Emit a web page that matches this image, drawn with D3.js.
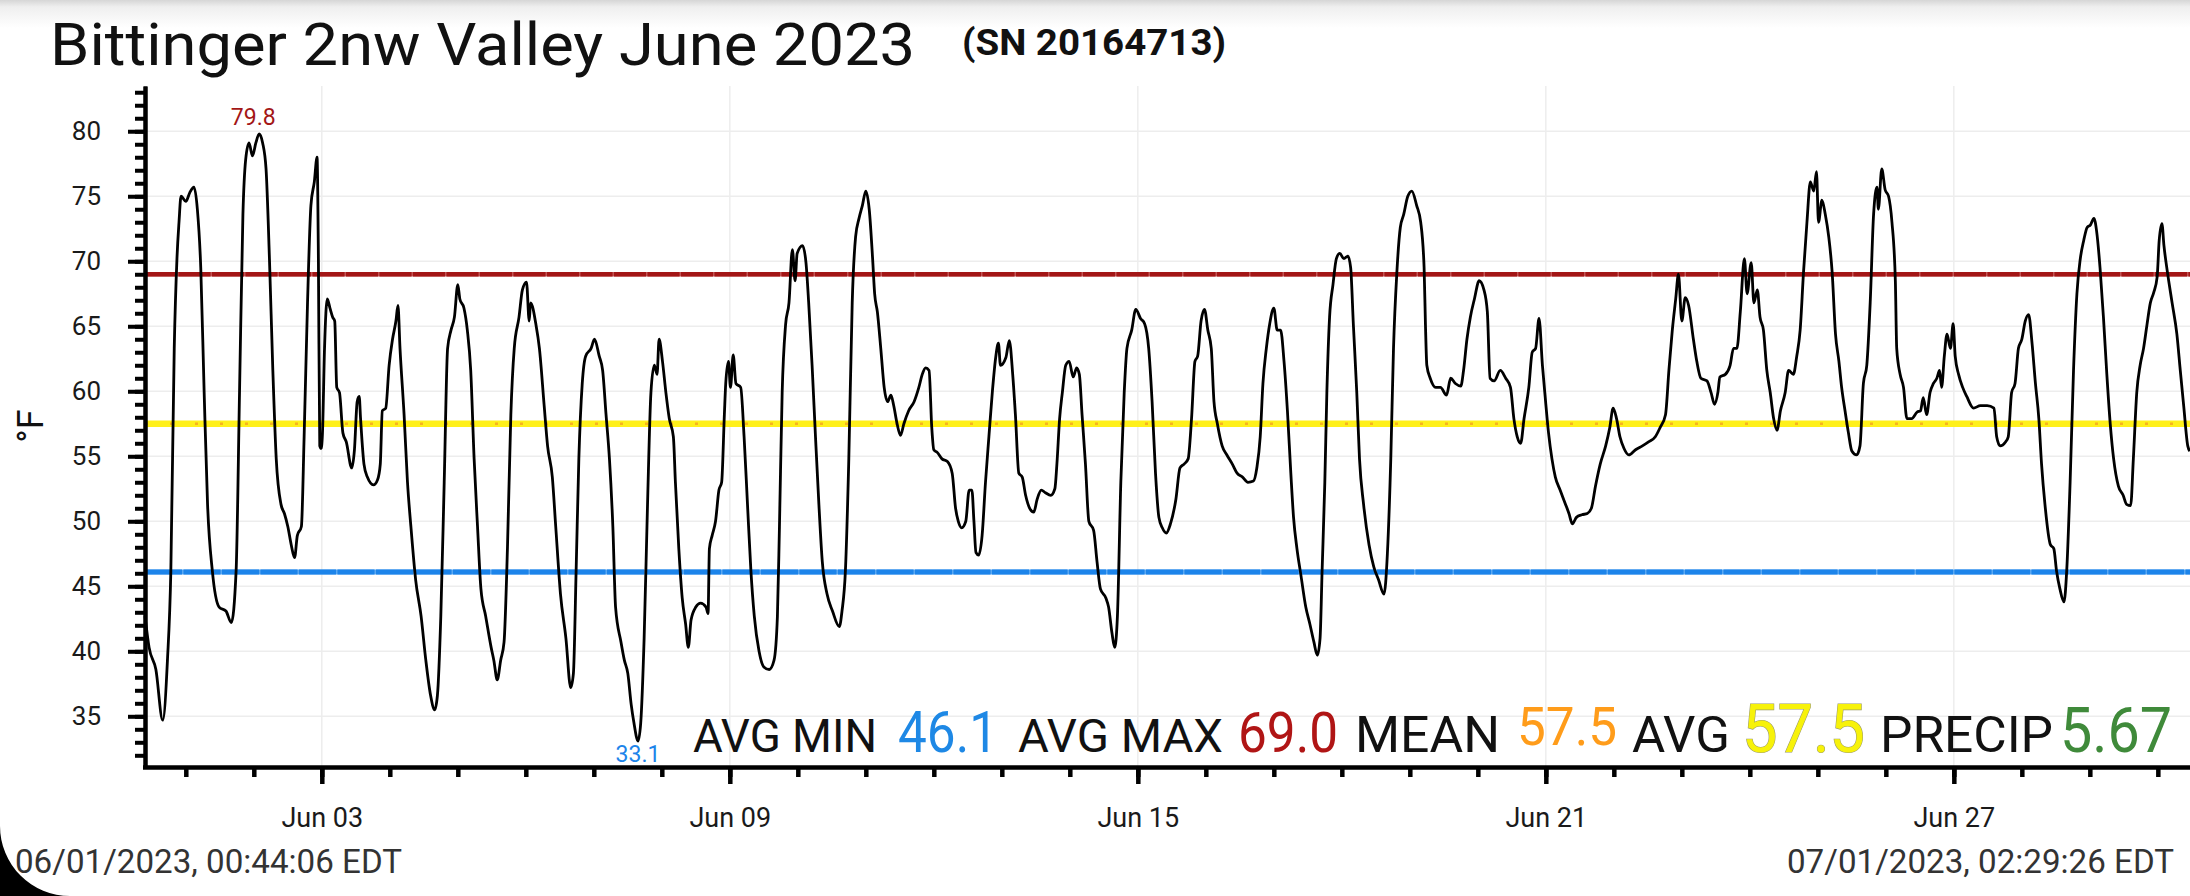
<!DOCTYPE html>
<html>
<head>
<meta charset="utf-8">
<script src="https://cdn.jsdelivr.net/npm/d3@7"></script>
<style>
body { margin: 0; background: #fff; overflow: hidden; }
text { font-family: Roboto, "Noto Sans", sans-serif; }
</style>
</head>
<body>
<div class="container"></div>
<script>
// ---- data ----
const chartTitle = "Bittinger 2nw Valley June 2023";
const serialLabel = "(SN 20164713)";
const startLabel = "06/01/2023, 00:44:06 EDT";
const endLabel = "07/01/2023, 02:29:26 EDT";
const unitLabel = "°F";

const spanDays = 30.073;        // first to last reading, in days
const firstTickDay = 0.60;      // where the "Jun 01" day tick falls, days from first reading
const dayNumbers = d3.range(1, 31);
const majorDays = [3, 9, 15, 21, 27];
const majorLabels = ["Jun 03", "Jun 09", "Jun 15", "Jun 21", "Jun 27"];
const yMinorTicks = d3.range(32, 84);
const yMajorTicks = [35, 40, 45, 50, 55, 60, 65, 70, 75, 80];

const avgMin = 46.1;
const avgMax = 69.0;
const meanTemp = 57.5;
const avgTemp = 57.5;
const precip = 5.67;

// [days since first reading, temperature °F]
const tempPoints = [
  [0.00,42.7],[0.06,40.3],[0.16,38.6],[0.26,34.7],[0.33,39.3],[0.38,46.2],[0.43,63.3],[0.47,70.2],[0.50,73.0],[0.53,75.0],
  [0.60,74.6],[0.66,75.3],[0.72,75.7],[0.77,74.0],[0.82,69.5],[0.87,59.9],[0.92,51.3],[0.99,46.2],[1.09,43.4],[1.19,43.1],
  [1.27,42.2],[1.34,46.2],[1.39,59.9],[1.44,73.6],[1.48,77.8],[1.53,79.1],[1.58,78.1],[1.63,79.1],[1.68,79.8],[1.73,79.1],
  [1.78,77.1],[1.83,70.2],[1.88,61.6],[1.93,54.8],[2.00,51.3],[2.05,50.6],[2.10,49.6],[2.15,48.2],[2.20,47.2],[2.24,48.9],
  [2.30,49.6],[2.34,56.5],[2.39,66.8],[2.44,74.3],[2.49,76.1],[2.53,78.0],[2.55,70.2],[2.57,55.8],[2.59,55.6],[2.61,56.8],
  [2.64,63.3],[2.68,67.1],[2.72,66.4],[2.76,65.7],[2.79,65.4],[2.82,60.3],[2.86,59.9],[2.91,56.8],[2.96,56.1],[3.04,54.1],
  [3.08,55.5],[3.12,59.2],[3.15,59.6],[3.17,57.9],[3.22,54.4],[3.27,53.4],[3.36,52.8],[3.42,53.2],[3.46,54.4],[3.49,58.5],
  [3.54,58.7],[3.59,62.0],[3.64,64.0],[3.69,65.4],[3.72,66.6],[3.75,63.3],[3.81,58.2],[3.86,53.0],[3.91,49.6],[3.98,45.5],
  [4.06,42.7],[4.13,39.3],[4.20,36.6],[4.26,35.5],[4.30,36.6],[4.35,42.7],[4.40,53.0],[4.45,63.3],[4.50,64.7],[4.55,65.7],
  [4.60,68.2],[4.63,67.1],[4.69,66.4],[4.74,64.7],[4.79,61.6],[4.84,54.8],[4.89,49.6],[4.94,44.8],[5.01,42.7],[5.09,40.3],
  [5.13,39.3],[5.18,37.8],[5.23,39.3],[5.28,40.7],[5.33,47.9],[5.38,58.2],[5.43,63.3],[5.50,65.7],[5.55,67.8],[5.61,68.4],
  [5.65,65.4],[5.67,66.8],[5.75,65.1],[5.80,63.3],[5.87,58.9],[5.92,55.8],[5.99,53.4],[6.04,49.6],[6.11,44.4],[6.19,41.0],
  [6.26,37.2],[6.30,38.3],[6.34,46.2],[6.38,54.8],[6.43,60.6],[6.48,62.7],[6.56,63.3],[6.61,64.0],[6.68,62.7],[6.73,61.6],
  [6.78,58.2],[6.83,54.8],[6.88,49.6],[6.92,43.4],[7.00,40.7],[7.05,39.3],[7.10,38.3],[7.15,35.9],[7.19,34.5],[7.25,33.1],
  [7.29,34.5],[7.34,41.0],[7.39,51.3],[7.44,59.9],[7.49,62.0],[7.53,61.3],[7.56,64.0],[7.61,62.3],[7.66,59.9],[7.71,57.9],
  [7.77,56.5],[7.80,53.0],[7.85,47.9],[7.90,44.1],[7.95,42.1],[7.99,40.3],[8.03,42.4],[8.10,43.4],[8.17,43.7],[8.25,43.4],
  [8.28,42.9],[8.30,47.9],[8.34,48.9],[8.39,50.0],[8.44,52.4],[8.48,53.0],[8.52,58.2],[8.54,60.6],[8.58,62.3],[8.61,60.3],
  [8.65,62.8],[8.69,60.6],[8.76,60.3],[8.81,56.5],[8.86,51.3],[8.91,46.2],[8.96,42.7],[9.03,40.0],[9.10,38.8],[9.18,38.6],
  [9.25,39.3],[9.30,42.7],[9.33,49.6],[9.37,59.9],[9.42,65.1],[9.47,66.8],[9.52,70.9],[9.56,68.5],[9.59,70.6],[9.67,71.2],
  [9.72,69.9],[9.76,66.8],[9.81,62.0],[9.86,56.5],[9.91,51.3],[9.96,46.9],[10.03,44.4],[10.11,43.1],[10.21,41.9],[10.25,43.1],
  [10.30,46.2],[10.35,54.8],[10.40,66.8],[10.45,71.9],[10.50,73.3],[10.55,74.3],[10.60,75.4],[10.65,74.0],[10.70,70.2],[10.73,67.5],
  [10.77,66.1],[10.82,63.3],[10.87,60.3],[10.92,59.2],[10.97,59.7],[11.01,58.9],[11.06,57.5],[11.11,56.6],[11.16,57.5],[11.23,58.5],
  [11.31,59.2],[11.38,60.3],[11.43,61.3],[11.48,61.8],[11.53,61.6],[11.57,57.2],[11.60,55.5],[11.65,55.3],[11.72,54.8],[11.80,54.6],
  [11.87,53.7],[11.92,51.0],[11.96,50.0],[12.01,49.5],[12.07,50.0],[12.12,52.4],[12.16,52.4],[12.19,50.0],[12.22,47.6],[12.26,47.4],
  [12.31,48.9],[12.36,53.0],[12.41,56.5],[12.46,59.9],[12.51,62.6],[12.55,63.7],[12.58,62.0],[12.66,62.6],[12.71,63.9],[12.76,61.3],
  [12.80,58.2],[12.85,53.7],[12.90,53.4],[12.95,52.0],[13.01,51.0],[13.07,50.7],[13.12,51.7],[13.18,52.4],[13.24,52.2],[13.32,52.0],
  [13.38,52.5],[13.41,54.4],[13.45,57.9],[13.49,59.9],[13.54,62.0],[13.59,62.3],[13.65,61.1],[13.70,61.8],[13.74,61.3],[13.78,58.2],
  [13.83,54.4],[13.88,50.0],[13.95,49.3],[14.00,46.9],[14.05,44.8],[14.13,44.1],[14.17,43.4],[14.22,41.4],[14.26,40.3],[14.30,42.7],
  [14.35,53.0],[14.40,59.9],[14.44,63.3],[14.51,64.7],[14.57,66.3],[14.64,65.6],[14.70,65.2],[14.76,63.3],[14.81,59.2],[14.86,53.7],
  [14.91,50.3],[14.96,49.5],[15.02,49.1],[15.08,49.8],[15.16,51.7],[15.22,54.1],[15.28,54.4],[15.34,54.8],[15.39,57.9],[15.44,62.3],
  [15.48,62.7],[15.53,65.4],[15.58,66.3],[15.63,64.7],[15.68,63.3],[15.72,59.2],[15.77,57.5],[15.84,55.8],[15.91,55.1],[15.99,54.4],
  [16.06,53.7],[16.14,53.4],[16.22,53.0],[16.30,53.1],[16.35,54.1],[16.40,56.5],[16.44,60.6],[16.49,63.3],[16.54,65.2],[16.60,66.4],
  [16.65,64.7],[16.70,64.7],[16.75,62.3],[16.80,58.5],[16.85,53.7],[16.89,50.3],[16.94,47.9],[17.00,45.8],[17.07,43.4],[17.13,42.1],
  [17.19,40.7],[17.24,39.7],[17.28,41.0],[17.31,46.2],[17.35,53.0],[17.38,59.9],[17.42,65.7],[17.47,68.2],[17.52,70.2],[17.57,70.6],
  [17.63,70.2],[17.69,70.4],[17.73,69.5],[17.77,65.1],[17.82,59.9],[17.86,54.8],[17.92,51.3],[18.00,48.2],[18.07,46.5],[18.14,45.5],
  [18.22,44.4],[18.27,47.5],[18.32,54.8],[18.36,63.3],[18.41,69.2],[18.46,72.6],[18.51,73.6],[18.57,75.0],[18.63,75.4],[18.70,74.3],
  [18.76,73.0],[18.81,69.5],[18.83,65.1],[18.85,62.0],[18.90,61.0],[18.98,60.3],[19.05,60.3],[19.14,59.7],[19.20,61.0],[19.27,60.6],
  [19.35,60.4],[19.39,61.6],[19.44,64.0],[19.49,65.7],[19.55,67.1],[19.62,68.5],[19.69,67.8],[19.74,66.1],[19.78,61.0],[19.84,60.8],
  [19.93,61.6],[20.01,61.0],[20.08,60.3],[20.13,57.9],[20.18,56.5],[20.23,56.0],[20.28,57.9],[20.35,60.3],[20.40,63.0],[20.45,63.3],
  [20.50,65.6],[20.55,62.0],[20.59,59.6],[20.64,56.8],[20.69,54.8],[20.74,53.4],[20.81,52.4],[20.89,51.3],[20.94,50.6],[20.99,49.8],
  [21.05,50.3],[21.13,50.5],[21.21,50.6],[21.27,51.0],[21.33,52.7],[21.40,54.4],[21.48,55.8],[21.54,57.2],[21.59,58.7],[21.64,57.9],
  [21.69,56.5],[21.75,55.6],[21.82,55.1],[21.92,55.5],[22.02,55.8],[22.11,56.1],[22.21,56.5],[22.28,57.2],[22.36,58.2],[22.41,61.6],
  [22.46,64.7],[22.51,67.1],[22.55,69.0],[22.60,65.4],[22.65,67.2],[22.70,66.6],[22.77,64.0],[22.82,62.3],[22.88,61.0],[22.97,60.8],
  [23.03,59.9],[23.08,59.0],[23.13,59.9],[23.16,61.1],[23.24,61.3],[23.31,62.0],[23.36,63.3],[23.41,63.3],[23.46,66.1],[23.52,70.2],
  [23.56,67.5],[23.62,69.9],[23.66,66.8],[23.71,67.8],[23.75,65.7],[23.80,64.7],[23.85,61.6],[23.90,59.9],[23.95,57.9],[24.00,57.0],
  [24.05,58.5],[24.12,59.9],[24.17,61.6],[24.24,61.3],[24.29,62.7],[24.34,64.7],[24.39,69.2],[24.44,73.0],[24.49,76.1],[24.54,75.4],
  [24.58,76.9],[24.61,73.0],[24.66,74.7],[24.71,73.6],[24.76,71.9],[24.81,69.2],[24.86,64.4],[24.91,62.3],[24.95,60.3],[25.00,58.5],
  [25.05,56.8],[25.10,55.4],[25.17,55.1],[25.22,55.8],[25.27,60.6],[25.32,62.0],[25.37,66.8],[25.42,73.6],[25.47,75.7],[25.49,74.0],
  [25.54,77.1],[25.59,75.5],[25.64,75.0],[25.69,73.0],[25.74,68.5],[25.76,63.3],[25.81,61.3],[25.86,60.3],[25.91,57.9],[25.98,57.9],
  [26.06,58.4],[26.11,58.5],[26.15,59.5],[26.20,58.2],[26.25,59.9],[26.30,60.6],[26.35,61.0],[26.39,61.6],[26.42,60.3],[26.46,62.7],
  [26.50,64.4],[26.55,63.3],[26.59,65.2],[26.62,62.7],[26.67,61.3],[26.73,60.3],[26.79,59.6],[26.89,58.7],[26.99,58.9],[27.09,58.9],
  [27.19,58.7],[27.23,56.5],[27.28,55.8],[27.36,56.1],[27.40,56.5],[27.45,59.9],[27.50,60.6],[27.55,63.3],[27.60,64.0],[27.65,65.4],
  [27.70,65.9],[27.75,63.7],[27.80,60.6],[27.85,57.9],[27.89,54.4],[27.94,51.3],[28.02,48.2],[28.07,47.9],[28.11,46.2],[28.16,44.8],
  [28.22,43.8],[28.26,46.2],[28.31,53.0],[28.36,61.6],[28.41,67.5],[28.46,70.2],[28.51,71.6],[28.56,72.6],[28.61,72.8],[28.66,73.3],
  [28.70,72.3],[28.75,69.5],[28.80,65.7],[28.85,61.3],[28.90,57.5],[28.95,54.8],[29.02,52.7],[29.09,52.0],[29.14,51.3],[29.20,51.2],
  [29.24,54.8],[29.29,59.9],[29.34,62.0],[29.39,63.3],[29.44,65.1],[29.49,66.8],[29.54,67.6],[29.59,68.8],[29.62,71.6],[29.66,72.9],
  [29.69,71.2],[29.74,69.2],[29.81,66.8],[29.88,64.4],[29.93,61.6],[29.98,58.9],[30.04,55.8],[30.07,55.4]
];

// ---- layout ----
const WIDTH = 2190;
const HEIGHT = 896;
const PLOT_LEFT = 145;
const PLOT_RIGHT = 2190;
const PLOT_TOP = 86;
const PLOT_BOTTOM = 767;

var translate = function(x, y){
	return "translate(" + x + "," + y + ")";
};

var svg = d3.select('.container').append('svg')
	.attr('width', WIDTH)
	.attr('height', HEIGHT);

// top status-bar shade
var defs = svg.append('defs');
var grad = defs.append('linearGradient').attr('id', 'topShade')
	.attr('x1', 0).attr('y1', 0).attr('x2', 0).attr('y2', 1);
grad.append('stop').attr('offset', '0%').attr('stop-color', '#d6d6d6');
grad.append('stop').attr('offset', '25%').attr('stop-color', '#efefef');
grad.append('stop').attr('offset', '100%').attr('stop-color', '#ffffff');
svg.append('rect').attr('x', 0).attr('y', 0).attr('width', WIDTH).attr('height', 28)
	.attr('fill', 'url(#topShade)');

var xScale = d3.scaleLinear()
	.domain([0, spanDays])
	.range([PLOT_LEFT, PLOT_RIGHT]);

var yScale = d3.scaleLinear()
	.domain([31.1, 83.48])
	.range([PLOT_BOTTOM, PLOT_TOP]);

var tickDay = function(n){ return firstTickDay + (n - 1); };

// grid
var grid = svg.append('g').attr('class', 'grid');
grid.selectAll('line.h').data(yMajorTicks).enter().append('line')
	.attr('class', 'h')
	.attr('x1', PLOT_LEFT).attr('x2', PLOT_RIGHT)
	.attr('y1', function(d){ return yScale(d); })
	.attr('y2', function(d){ return yScale(d); })
	.attr('stroke', '#ededed').attr('stroke-width', 1.5);
grid.selectAll('line.v').data(majorDays).enter().append('line')
	.attr('class', 'v')
	.attr('x1', function(d){ return xScale(tickDay(d)); })
	.attr('x2', function(d){ return xScale(tickDay(d)); })
	.attr('y1', PLOT_TOP).attr('y2', PLOT_BOTTOM)
	.attr('stroke', '#ededed').attr('stroke-width', 1.5);

// reference lines: a lighter solid band with darker segments on top
var refLine = function(value, base, top, width, dash){
	refs.append('line')
		.attr('x1', PLOT_LEFT).attr('x2', PLOT_RIGHT)
		.attr('y1', yScale(value)).attr('y2', yScale(value))
		.attr('stroke', base).attr('stroke-width', width);
	if (top) {
		refs.append('line')
			.attr('x1', PLOT_LEFT).attr('x2', PLOT_RIGHT)
			.attr('y1', yScale(value)).attr('y2', yScale(value))
			.attr('stroke', top).attr('stroke-width', width)
			.attr('stroke-dasharray', dash);
	}
};
var refs = svg.append('g');
refLine(avgMax, '#c25454', '#a31616', 4.5, '32 1.5');
refLine(avgMin, '#5aa8f2', '#1c84ea', 5, '37 1.5');
refLine(avgTemp, '#fff01a', null, 6.5);
refs.append('line')
	.attr('x1', PLOT_LEFT).attr('x2', PLOT_RIGHT)
	.attr('y1', yScale(meanTemp)).attr('y2', yScale(meanTemp))
	.attr('stroke', '#f39a1e').attr('stroke-width', 2.5)
	.attr('stroke-opacity', 0.7)
	.attr('stroke-dasharray', '3 22');

// temperature line
var line = d3.line()
	.curve(d3.curveMonotoneX)
	.x(function(d){ return xScale(d[0]); })
	.y(function(d){ return yScale(d[1]); });

svg.append('path')
	.attr('d', line(tempPoints))
	.attr('fill', 'none')
	.attr('stroke', '#000')
	.attr('stroke-width', 2.8)
	.attr('stroke-linejoin', 'round');

// axes
var styleAxis = function(g, width){
	g.attr('font-family', 'Roboto, sans-serif');
	g.select('.domain').attr('stroke', '#000').attr('stroke-width', width);
	g.selectAll('.tick line').attr('stroke', '#000').attr('stroke-width', width);
	g.selectAll('.tick text').attr('fill', '#1a1a1a');
};

var yMinor = svg.append('g')
	.attr('transform', translate(PLOT_LEFT, 0))
	.call(d3.axisLeft(yScale).tickValues(yMinorTicks).tickSize(10).tickSizeOuter(0).tickFormat(''));
styleAxis(yMinor, 4);

var yMajor = svg.append('g')
	.attr('transform', translate(PLOT_LEFT, 0))
	.call(d3.axisLeft(yScale).tickValues(yMajorTicks).tickSize(17).tickSizeOuter(0).tickPadding(27));
styleAxis(yMajor, 4);
yMajor.selectAll('.tick text').attr('font-size', 26);

var xMinor = svg.append('g')
	.attr('transform', translate(0, PLOT_BOTTOM))
	.call(d3.axisBottom(xScale).tickValues(dayNumbers.map(tickDay)).tickSize(10).tickSizeOuter(0).tickFormat(''));
styleAxis(xMinor, 4.5);
xMinor.select('.domain').attr('d', 'M' + (PLOT_LEFT - 2) + ',0.5H' + PLOT_RIGHT);

var xMajor = svg.append('g')
	.attr('transform', translate(0, PLOT_BOTTOM))
	.call(d3.axisBottom(xScale).tickValues(majorDays.map(tickDay)).tickSize(17).tickSizeOuter(0).tickPadding(24)
		.tickFormat(function(d, i){ return majorLabels[i]; }));
styleAxis(xMajor, 4.5);
xMajor.select('.domain').remove();
xMajor.selectAll('.tick text').attr('font-size', 27);

// unit label
svg.append('text')
	.attr('transform', translate(43, 426) + ' rotate(-90)')
	.attr('text-anchor', 'middle')
	.attr('font-size', 36)
	.attr('fill', '#111')
	.text(unitLabel);

// max / min labels
var maxPoint = tempPoints.reduce(function(a, b){ return b[1] > a[1] ? b : a; });
var minPoint = tempPoints.reduce(function(a, b){ return b[1] < a[1] ? b : a; });
svg.append('text')
	.attr('x', xScale(maxPoint[0]) - 6).attr('y', yScale(maxPoint[1]) - 9)
	.attr('text-anchor', 'middle').attr('font-size', 23).attr('fill', '#a31616')
	.text(maxPoint[1].toFixed(1));
svg.append('text')
	.attr('x', xScale(minPoint[0])).attr('y', yScale(minPoint[1]) + 21)
	.attr('text-anchor', 'middle').attr('font-size', 23).attr('fill', '#1c84ea')
	.text(minPoint[1].toFixed(1));

// title
svg.append('text')
	.attr('x', 50).attr('y', 65)
	.attr('font-size', 60).attr('fill', '#111')
	.attr('textLength', 865).attr('lengthAdjust', 'spacingAndGlyphs')
	.text(chartTitle);
svg.append('text')
	.attr('x', 962).attr('y', 55)
	.attr('font-size', 36).attr('font-weight', 700).attr('fill', '#111')
	.attr('textLength', 264).attr('lengthAdjust', 'spacingAndGlyphs')
	.text(serialLabel);

// summary line
const statItems = [
	{ text: "AVG MIN", color: "#111" },
	{ text: avgMin.toFixed(1), color: "#1e88e5" },
	{ text: "AVG MAX", color: "#111" },
	{ text: avgMax.toFixed(1), color: "#b01515" },
	{ text: "MEAN", color: "#111" },
	{ text: meanTemp.toFixed(1), color: "#ff9c1a" },
	{ text: "AVG", color: "#111" },
	{ text: avgTemp.toFixed(1), color: "#f7f20a", outline: true },
	{ text: "PRECIP", color: "#111" },
	{ text: precip.toFixed(2), color: "#3f8a3a" }
];
// x start, text length, font size, baseline
const statLayout = [
	[693, 184, 47, 752], [898, 100, 58, 752], [1018, 205, 47, 752], [1238, 100, 56, 752],
	[1355, 145, 50, 752], [1517, 100, 53, 745], [1632, 98, 50, 752], [1742, 123, 66, 752],
	[1880, 173, 50, 752], [2060, 112, 63, 752]
];
svg.append('g').selectAll('text').data(statItems).enter().append('text')
	.attr('x', function(d, i){ return statLayout[i][0]; })
	.attr('y', function(d, i){ return statLayout[i][3]; })
	.attr('font-size', function(d, i){ return statLayout[i][2]; })
	.attr('textLength', function(d, i){ return statLayout[i][1]; })
	.attr('lengthAdjust', 'spacingAndGlyphs')
	.attr('fill', function(d){ return d.color; })
	.attr('stroke', function(d){ return d.outline ? '#9a9a6a' : 'none'; })
	.attr('stroke-width', function(d){ return d.outline ? 1.2 : 0; })
	.attr('paint-order', 'stroke')
	.text(function(d){ return d.text; });

// time range labels
svg.append('text')
	.attr('x', 15).attr('y', 873)
	.attr('font-size', 34).attr('fill', '#333')
	.attr('textLength', 387).attr('lengthAdjust', 'spacingAndGlyphs')
	.text(startLabel);
svg.append('text')
	.attr('x', 2174).attr('y', 873)
	.attr('text-anchor', 'end')
	.attr('font-size', 34).attr('fill', '#333')
	.attr('textLength', 387).attr('lengthAdjust', 'spacingAndGlyphs')
	.text(endLabel);

// phone screen corner
svg.append('path')
	.attr('d', 'M0,826 A70,70 0 0 0 70,896 L0,896 Z')
	.attr('fill', '#000');
</script>
</body>
</html>
